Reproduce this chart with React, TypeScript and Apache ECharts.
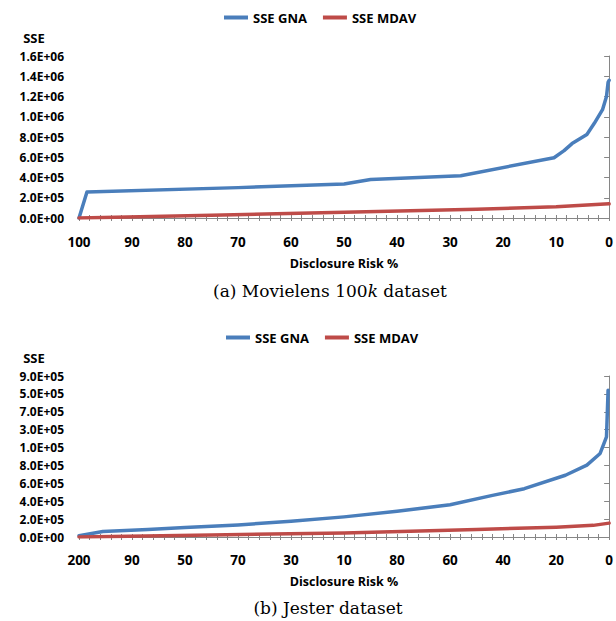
import React, { useEffect, useRef } from "react";
import * as echarts from "echarts";

const LEGEND_NAMES = ["SSE GNA", "SSE MDAV"];
const TOP_X_LABELS = ["100", "90", "80", "70", "60", "50", "40", "30", "20", "10", "0"];
const BOTTOM_X_LABELS = ["200", "90", "50", "70", "30", "10", "80", "60", "40", "20", "0"];
const TOP_Y_LABELS = ["0.0E+00", "2.0E+05", "4.0E+05", "6.0E+05", "8.0E+05", "1.0E+06", "1.2E+06", "1.4E+06", "1.6E+06"];
const BOTTOM_Y_LABELS = ["0.0E+00", "2.0E+05", "4.0E+05", "6.0E+05", "8.0E+05", "1.0E+05", "3.0E+05", "7.0E+05", "5.0E+05", "9.0E+05"];

const TOP_GNA: [number, number][] = [
  [100, 0], [98.5, 257000], [70, 300000], [50, 336000], [45, 380000], [28, 418000],
  [10.4, 595000], [8.5, 665000], [7, 735000], [4.2, 825000], [2.8, 935000],
  [1.25, 1070000], [0.5, 1200000], [0.2, 1340000], [0, 1360000],
];
const TOP_MDAV: [number, number][] = [
  [100, 0], [75, 28000], [50, 56000], [25, 86000], [10, 110000], [0, 140000],
];
const BOTTOM_GNA: [number, number][] = [
  [100, 15000], [95.5, 62000], [87, 85000], [80, 105000], [70, 135000], [60, 175000],
  [50, 225000], [40, 288000], [30, 360000], [22, 465000], [16, 540000], [8.25, 690000],
  [4.2, 803000], [1.7, 934000], [0.5, 1120000], [0.2, 1640000],
];
const BOTTOM_MDAV: [number, number][] = [
  [100, 0], [75, 22000], [50, 45000], [25, 85000], [10, 110000], [3, 130000], [0, 155000],
];

const BLUE = "#4A7EBB";
const RED = "#BE4B48";
const AXIS_COLOR = "#868686";
const SANS = '"Open Sans", "Liberation Sans", Arial, sans-serif';
const SERIF = '"DejaVu Serif", serif';

function xAxes(gridIndex: number, labels: string[], nameGap: number, labelMargin: number) {
  const common = {
    type: "value",
    gridIndex,
    min: 0,
    max: 100,
    interval: 10,
    inverse: true,
    position: "bottom",
    splitLine: { show: false },
    minorSplitLine: { show: false },
  };
  return [
    {
      ...common,
      axisLine: { show: true, lineStyle: { color: AXIS_COLOR, width: 1 } },
      axisTick: { show: true, inside: false, length: 3, lineStyle: { color: AXIS_COLOR } },
      minorTick: { show: true, splitNumber: 5, length: 3, lineStyle: { color: AXIS_COLOR } },
      axisLabel: {
        show: true,
        margin: labelMargin,
        color: "#000",
        fontFamily: SANS,
        fontWeight: "bold",
        fontSize: 13.5,
        formatter: (v: number) => labels[Math.round((100 - v) / 10)] ?? "",
      },
      name: "Disclosure Risk %",
      nameLocation: "middle",
      nameGap,
      nameTextStyle: { color: "#000", fontFamily: SANS, fontWeight: "bold", fontSize: 12.5 },
    },
    {
      ...common,
      axisLine: { show: false },
      axisTick: { show: true, inside: true, length: 3, lineStyle: { color: AXIS_COLOR } },
      minorTick: { show: true, splitNumber: 5, length: 3, lineStyle: { color: AXIS_COLOR } },
      axisLabel: { show: false },
    },
  ];
}

function yAxis(gridIndex: number, labels: string[], max: number) {
  return {
    type: "value",
    gridIndex,
    min: 0,
    max,
    interval: 200000,
    axisLine: { show: true, lineStyle: { color: AXIS_COLOR, width: 1 } },
    axisTick: { show: true, inside: false, length: 5, lineStyle: { color: AXIS_COLOR } },
    splitLine: { show: false },
    axisLabel: {
      margin: 15,
      color: "#000",
      fontFamily: SANS,
      fontWeight: "bold",
      fontSize: 12,
      formatter: (v: number) => labels[Math.round(v / 200000)] ?? "",
    },
  };
}

function lineSeries(name: string, color: string, data: [number, number][], xi: number, yi: number) {
  return {
    type: "line",
    name,
    xAxisIndex: xi,
    yAxisIndex: yi,
    data,
    showSymbol: false,
    symbol: "none",
    lineStyle: { color, width: 3.5, cap: "round", join: "round" },
    itemStyle: { color },
    emphasis: { disabled: true },
  };
}

function legend(left: number, top: number) {
  return {
    data: LEGEND_NAMES,
    left,
    top,
    icon: "rect",
    itemWidth: 24,
    itemHeight: 4,
    itemGap: 16,
    selectedMode: false,
    textStyle: { color: "#000", fontFamily: SANS, fontWeight: "bold", fontSize: 13 },
  };
}

export default function App() {
  const ref = useRef<HTMLDivElement>(null);
  useEffect(() => {
    if (!ref.current) return;
    const chart = echarts.init(ref.current, undefined, { renderer: "svg" });
    chart.setOption({
      animation: false,
      backgroundColor: "#fff",
      legend: [legend(219, 6), legend(221, 326)],
      grid: [
        { left: 79, top: 56, width: 537, height: 162 },
        { left: 79, top: 376, width: 537, height: 161 },
      ],
      xAxis: [...xAxes(0, TOP_X_LABELS, 39, 17), ...xAxes(1, BOTTOM_X_LABELS, 38, 16)],
      yAxis: [yAxis(0, TOP_Y_LABELS, 1600000), yAxis(1, BOTTOM_Y_LABELS, 1800000)],
      series: [
        lineSeries(LEGEND_NAMES[0], BLUE, TOP_GNA, 0, 0),
        lineSeries(LEGEND_NAMES[1], RED, TOP_MDAV, 0, 0),
        lineSeries(LEGEND_NAMES[0], BLUE, BOTTOM_GNA, 2, 1),
        lineSeries(LEGEND_NAMES[1], RED, BOTTOM_MDAV, 2, 1),
      ],
      graphic: [
        {
          type: "text", x: 34, y: 38,
          style: { text: "SSE", align: "center", verticalAlign: "middle", fill: "#000", font: `bold 13px ${SANS}` },
        },
        {
          type: "text", x: 34, y: 358,
          style: { text: "SSE", align: "center", verticalAlign: "middle", fill: "#000", font: `bold 13px ${SANS}` },
        },
        {
          type: "text", x: 330, y: 291,
          style: {
            text: "(a) Movielens 100{k|k} dataset",
            align: "center", verticalAlign: "middle", fill: "#000",
            fontFamily: SERIF, fontSize: 17,
            rich: { k: { fontStyle: "italic", fontFamily: SERIF, fontSize: 17, fill: "#000" } },
          },
        },
        {
          type: "text", x: 328, y: 608,
          style: {
            text: "(b) Jester dataset",
            align: "center", verticalAlign: "middle", fill: "#000",
            fontFamily: SERIF, fontSize: 17,
          },
        },
      ],
    });
    return () => chart.dispose();
  }, []);
  return <div ref={ref} style={{ position: "absolute", left: 0, top: 0, width: 616, height: 621 }} />;
}
